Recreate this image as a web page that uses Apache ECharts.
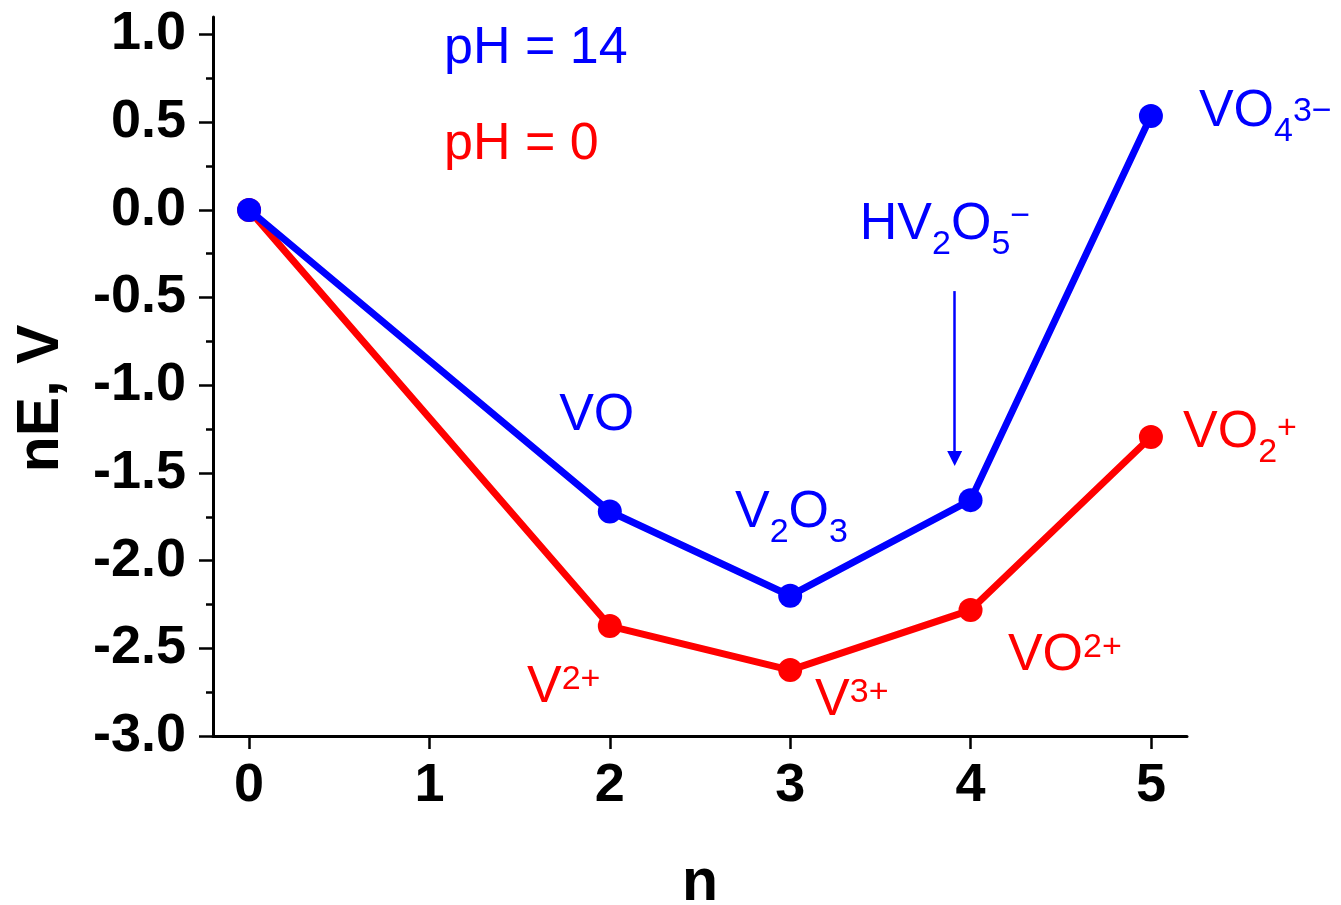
<!DOCTYPE html>
<html>
<head>
<meta charset="utf-8">
<style>
html,body{margin:0;padding:0;background:#fff;}
#chart{width:1341px;height:905px;}
</style>
<script src="https://cdn.jsdelivr.net/npm/echarts@6/dist/echarts.min.js"></script>
</head>
<body>
<div id="chart"></div>
<script>
// ---- data ----
const nValues = [0, 2, 3, 4, 5];
const nE_pH14 = [0, -1.72, -2.20, -1.655, 0.535];
const nE_pH0 = [0, -2.373, -2.624, -2.282, -1.295];
const xTicks = [0, 1, 2, 3, 4, 5];
const yTicks = [-3.0, -2.5, -2.0, -1.5, -1.0, -0.5, 0.0, 0.5, 1.0];
const yMinorTicks = [-2.75, -2.25, -1.75, -1.25, -0.75, -0.25, 0.25, 0.75];
// annotation labels: [x, y, rich text]
const blueLabels = [
  [1.081, 0.937, '{m|pH = 14}'],
  [1.719, -1.155, '{m|VO}'],
  [2.694, -1.709, '{m|V}{sub|2}{m|O}{sub|3}'],
  [3.386, -0.066, '{m|HV}{sub|2}{m|O}{sub|5}{sup|\u2212}'],
  [5.266, 0.575, '{m|VO}{sub|4}{sup0|3\u2212}']
];
const redLabels = [
  [1.081, 0.390, '{m|pH = 0}'],
  [5.178, -1.252, '{m|VO}{sub|2}{sup4|+}'],
  [4.207, -2.524, '{m|VO}{sup|2+}'],
  [3.138, -2.781, '{m|V}{sup|3+}'],
  [1.541, -2.709, '{m|V}{sup|2+}']
];
const arrowPoints = [[3.912, -0.463], [3.912, -1.418]];

const BLUE = '#0000ff', RED = '#ff0000';
const FONT = '"Liberation Sans", Arial, sans-serif';

function richFor(color) {
  const base = {color: color, fontFamily: FONT, verticalAlign: 'top', opacity: 1};
  return {
    m: Object.assign({fontSize: 52, lineHeight: 52, padding: [3, 0, 27, 0]}, base),
    sub: Object.assign({fontSize: 34, lineHeight: 34, padding: [32, 0, 0, 0]}, base),
    sup: Object.assign({fontSize: 34, lineHeight: 34, padding: [4, 0, 0, 0]}, base),
    sup0: Object.assign({fontSize: 34, lineHeight: 34, padding: [12, 0, 0, 0]}, base),
    sup4: Object.assign({fontSize: 34, lineHeight: 34, padding: [8, 0, 0, 0]}, base)
  };
}

function labelSeries(name, arr, color) {
  return {
    name: name,
    type: 'scatter',
    symbolSize: 0,
    silent: true,
    clip: false,
    z: 5,
    itemStyle: {opacity: 1, color: color},
    data: arr.map(d => ({value: [d[0], d[1]], text: d[2]})),
    label: {
      show: true,
      position: 'right',
      distance: 0,
      align: 'left',
      verticalAlign: 'middle',
      color: color,
      opacity: 1,
      formatter: p => p.data.text,
      rich: richFor(color)
    }
  };
}

const chart = echarts.init(document.getElementById('chart'), null, {renderer: 'canvas'});
chart.setOption({
  animation: false,
  backgroundColor: '#fff',
  grid: {left: 213, right: 154, top: 17, bottom: 169, containLabel: false, outerBoundsMode: 'none'},
  xAxis: {
    type: 'value',
    min: -0.2,
    max: 5.2,
    name: 'n',
    nameLocation: 'middle',
    nameGap: 118,
    nameTextStyle: {fontSize: 59, fontWeight: 'bold', color: '#000', fontFamily: FONT},
    axisLine: {show: true, onZero: false, lineStyle: {color: '#000', width: 3}},
    axisTick: {show: true, inside: false, length: 13, lineStyle: {color: '#000', width: 2.5}, customValues: xTicks},
    axisLabel: {show: true, margin: 23, fontSize: 54, fontWeight: 'bold', color: '#000', fontFamily: FONT,
      customValues: xTicks, formatter: v => String(v)},
    splitLine: {show: false}
  },
  yAxis: [{
    type: 'value',
    min: -3.0,
    max: 1.1,
    position: 'left',
    name: 'nE, V',
    nameLocation: 'middle',
    nameGap: 142,
    nameRotate: 90,
    nameTextStyle: {fontSize: 59, fontWeight: 'bold', color: '#000', fontFamily: FONT, padding: [0, 44, 0, 0]},
    axisLine: {show: true, onZero: false, lineStyle: {color: '#000', width: 3}},
    axisTick: {show: true, inside: false, length: 14, lineStyle: {color: '#000', width: 2.5}, customValues: yTicks},
    axisLabel: {show: true, margin: 27, fontSize: 54, fontWeight: 'bold', color: '#000', fontFamily: FONT,
      customValues: yTicks, formatter: v => v.toFixed(1)},
    splitLine: {show: false}
  }, {
    type: 'value',
    min: -3.0,
    max: 1.1,
    position: 'left',
    offset: 0,
    axisLine: {show: false, onZero: false},
    axisTick: {show: true, inside: false, length: 7, lineStyle: {color: '#000', width: 2.5}, customValues: yMinorTicks},
    axisLabel: {show: false},
    splitLine: {show: false}
  }],
  series: [
    {
      name: 'pH = 0',
      type: 'line',
      data: nValues.map((n, i) => [n, nE_pH0[i]]),
      symbol: 'circle',
      symbolSize: 24,
      lineStyle: {color: RED, width: 7},
      itemStyle: {color: RED},
      z: 2
    },
    {
      name: 'pH = 14',
      type: 'line',
      data: nValues.map((n, i) => [n, nE_pH14[i]]),
      symbol: 'circle',
      symbolSize: 24,
      lineStyle: {color: BLUE, width: 7},
      itemStyle: {color: BLUE},
      z: 3,
      markLine: {
        silent: true,
        symbol: ['none', 'triangle'],
        symbolSize: [15, 15],
        label: {show: false},
        lineStyle: {color: BLUE, width: 2.5, type: 'solid'},
        data: [[{coord: arrowPoints[0]}, {coord: arrowPoints[1]}]]
      }
    },
    labelSeries('blueLabels', blueLabels, BLUE),
    labelSeries('redLabels', redLabels, RED)
  ]
});
</script>
</body>
</html>
